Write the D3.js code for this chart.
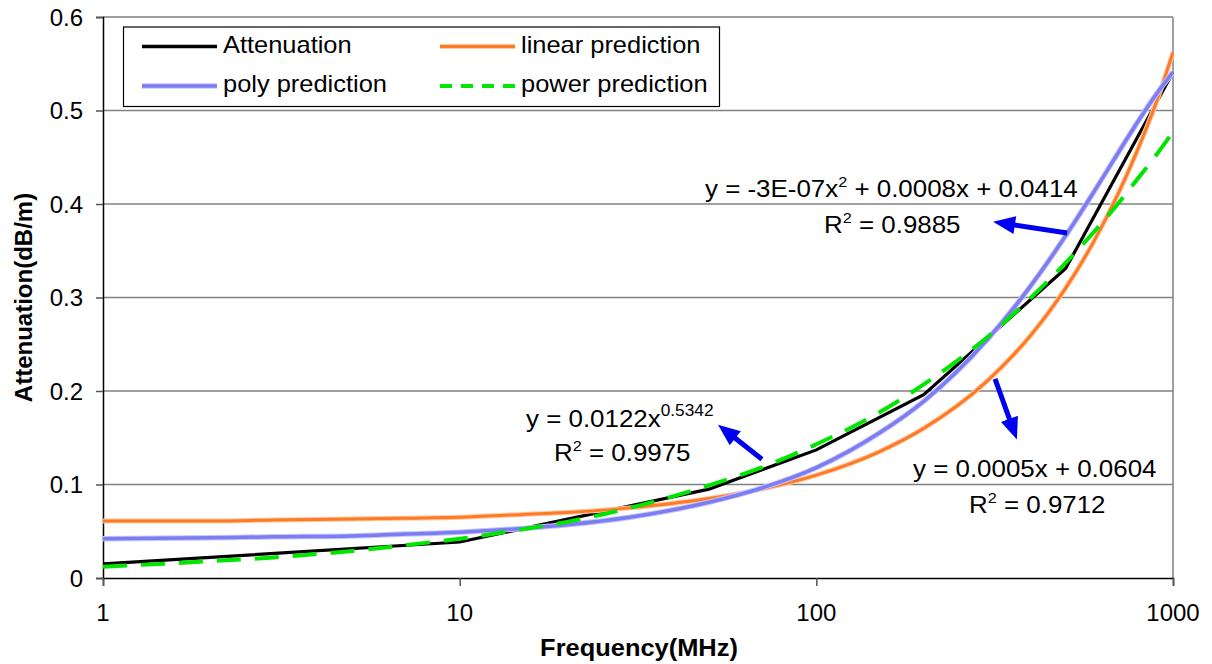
<!DOCTYPE html>
<html>
<head>
<meta charset="utf-8">
<script src="https://cdn.jsdelivr.net/npm/d3@7/dist/d3.min.js"></script>
<style>
  html, body { margin: 0; padding: 0; background: #fff; }
  svg { display: block; }
  text { font-family: "Liberation Sans", Arial, sans-serif; fill: #000; }
</style>
</head>
<body>
<svg id="chart" width="1212" height="664"></svg>
<script>
// ---------------- data ----------------
const measFreq    = [1, 10, 50, 100, 200, 500, 1000];
const attenuation = [0.015, 0.0385, 0.095, 0.137, 0.196, 0.331, 0.541];

const predFreq   = [1, 2, 3, 5, 7, 10, 15, 20, 30, 50, 70, 100, 150, 200, 300, 400, 500, 600, 700, 800, 900, 1000];
const linearPred = [0.061, 0.061, 0.062, 0.063, 0.064, 0.065, 0.068, 0.070, 0.075, 0.085, 0.095, 0.110, 0.135, 0.160, 0.210, 0.260, 0.310, 0.360, 0.410, 0.460, 0.510, 0.562];
const polyPred   = [0.042, 0.043, 0.044, 0.045, 0.047, 0.049, 0.053, 0.057, 0.065, 0.081, 0.096, 0.118, 0.155, 0.189, 0.254, 0.313, 0.366, 0.413, 0.454, 0.489, 0.518, 0.541];
const powerPred  = [0.012, 0.018, 0.022, 0.029, 0.035, 0.042, 0.052, 0.060, 0.075, 0.099, 0.118, 0.143, 0.177, 0.207, 0.257, 0.300, 0.337, 0.370, 0.400, 0.428, 0.453, 0.477];

const xTicks = [1, 10, 100, 1000];
const yTicks = [0, 0.1, 0.2, 0.3, 0.4, 0.5, 0.6];
const xTickLabels = ["1", "10", "100", "1000"];
const yTickLabels = ["0", "0.1", "0.2", "0.3", "0.4", "0.5", "0.6"];

const seriesNames = ["Attenuation", "linear prediction", "poly prediction", "power prediction"];

// trend-line annotations (text) and arrows (data coordinates: [freq, value])
const eqPoly   = { l1: ["y = -3E-07x", "2", " + 0.0008x + 0.0414"], l2: ["R", "2", " = 0.9885"] };
const eqPower  = { l1: ["y = 0.0122x", "0.5342", ""], l2: ["R", "2", " = 0.9975"] };
const eqLinear = { l1: ["y = 0.0005x + 0.0604", "", ""], l2: ["R", "2", " = 0.9712"] };
const arrows = [
  { from: [505, 0.369], to: [313, 0.381] },
  { from: [70.4, 0.127], to: [53.0, 0.164] },
  { from: [317, 0.213], to: [365, 0.148] }
];

// ---------------- layout ----------------
const svg = d3.select("#chart");
const M = { left: 103, right: 1173, top: 17, bottom: 578 };

const x = d3.scaleLog().domain([1, 1000]).range([M.left, M.right]);
const y = d3.scaleLinear().domain([0, 0.6]).range([M.bottom, M.top]);

svg.append("defs").append("clipPath").attr("id", "clip")
  .append("rect").attr("x", M.left).attr("y", M.top - 2)
  .attr("width", M.right - M.left + 1).attr("height", M.bottom - M.top + 2);

// gridlines
svg.append("g").selectAll("line").data(yTicks.slice(1)).join("line")
  .attr("x1", M.left).attr("x2", M.right)
  .attr("y1", d => y(d)).attr("y2", d => y(d))
  .attr("stroke", "#808080").attr("stroke-width", 1.5);

// right frame
svg.append("line").attr("x1", M.right).attr("x2", M.right)
  .attr("y1", M.top).attr("y2", M.bottom)
  .attr("stroke", "#808080").attr("stroke-width", 1.5);

// axes
const yAxis = d3.axisLeft(y).tickValues(yTicks).tickSize(7).tickFormat("");
const gy = svg.append("g").attr("transform", `translate(${M.left},0)`).call(yAxis);
gy.select(".domain").attr("stroke", "#000").attr("stroke-width", 1.5);
gy.selectAll(".tick line").attr("stroke", "#555").attr("stroke-width", 1.5);

const xAxis = d3.axisBottom(x).tickValues(xTicks).tickSize(8).tickFormat("");
const gx = svg.append("g").attr("transform", `translate(0,${M.bottom})`).call(xAxis);
gx.select(".domain").attr("stroke", "#000").attr("stroke-width", 1.5);
gx.selectAll(".tick line").attr("stroke", "#555").attr("stroke-width", 1.5);

// tick labels
svg.append("g").selectAll("text").data(yTicks).join("text")
  .attr("x", 83).attr("y", d => y(d) + 8.5)
  .attr("text-anchor", "end").attr("font-size", 24)
  .text((d, i) => yTickLabels[i]);

svg.append("g").selectAll("text").data(xTicks).join("text")
  .attr("x", d => x(d)).attr("y", 621)
  .attr("text-anchor", "middle").attr("font-size", 24)
  .text((d, i) => xTickLabels[i]);

// axis titles
svg.append("text")
  .attr("transform", "translate(32,297.5) rotate(-90)")
  .attr("text-anchor", "middle").attr("font-size", 24).attr("font-weight", "bold")
  .text("Attenuation(dB/m)");

svg.append("g").attr("transform", "translate(639,656) scale(1.06,1)")
  .append("text").attr("text-anchor", "middle").attr("font-size", 24).attr("font-weight", "bold")
  .text("Frequency(MHz)");

// ---------------- series ----------------
const plot = svg.append("g").attr("clip-path", "url(#clip)");
const lineGen = d3.line().x(d => x(d[0])).y(d => y(d[1]));
const smooth = d3.line().x(d => x(d[0])).y(d => y(d[1])).curve(d3.curveMonotoneX);

const attData  = measFreq.map((f, i) => [f, attenuation[i]]);
const linData  = predFreq.map((f, i) => [f, linearPred[i]]);
const polyData = predFreq.map((f, i) => [f, polyPred[i]]);
const powData  = predFreq.map((f, i) => [f, powerPred[i]]);

plot.append("path").datum(attData).attr("d", lineGen)
  .attr("fill", "none").attr("stroke", "#000").attr("stroke-width", 3.2);

plot.append("path").datum(linData).attr("d", smooth)
  .attr("fill", "none").attr("stroke", "#ffc9a0").attr("stroke-width", 5);
plot.append("path").datum(linData).attr("d", smooth)
  .attr("fill", "none").attr("stroke", "#ff7a26").attr("stroke-width", 3);

plot.append("path").datum(polyData).attr("d", smooth)
  .attr("fill", "none").attr("stroke", "#c4c4ff").attr("stroke-width", 5.5);
plot.append("path").datum(polyData).attr("d", smooth)
  .attr("fill", "none").attr("stroke", "#7d7df2").attr("stroke-width", 3.5);

plot.append("path").datum(powData).attr("d", smooth)
  .attr("fill", "none").attr("stroke", "#00e600").attr("stroke-width", 4)
  .attr("stroke-dasharray", "24,14");

// ---------------- legend ----------------
const lg = svg.append("g");
lg.append("rect").attr("x", 123.5).attr("y", 27).attr("width", 596).attr("height", 79.5)
  .attr("fill", "#fff").attr("stroke", "#000").attr("stroke-width", 1.2);

const legendItems = [
  { name: seriesNames[0], col: 0, row: 0, color: "#000", w: 3.5, halo: null, dash: null },
  { name: seriesNames[1], col: 1, row: 0, color: "#ff7a26", w: 3, halo: "#ffc9a0", dash: null },
  { name: seriesNames[2], col: 0, row: 1, color: "#7d7df2", w: 3.5, halo: "#c4c4ff", dash: null },
  { name: seriesNames[3], col: 1, row: 1, color: "#00e600", w: 4, halo: null, dash: "12,9" }
];
const colX = [142, 440];
const rowY = [46.5, 86];
legendItems.forEach(it => {
  const x0 = colX[it.col], yy = rowY[it.row];
  if (it.halo) lg.append("line").attr("x1", x0).attr("x2", x0 + 75).attr("y1", yy).attr("y2", yy)
    .attr("stroke", it.halo).attr("stroke-width", it.w + 2);
  lg.append("line").attr("x1", x0).attr("x2", x0 + 75).attr("y1", yy).attr("y2", yy)
    .attr("stroke", it.color).attr("stroke-width", it.w)
    .attr("stroke-dasharray", it.dash);
  lg.append("g").attr("transform", `translate(${x0 + 81},${yy + 6}) scale(1.06,1)`)
    .append("text").attr("font-size", 24).attr("dy", 0).text(it.name);
});

// ---------------- equations ----------------
function eqLine(px, py, parts, supDy) {
  const t = svg.append("g").attr("transform", `translate(${px},${py}) scale(1.08,1)`)
    .append("text").attr("font-size", 24);
  t.append("tspan").text(parts[0]);
  if (parts[1]) {
    t.append("tspan").attr("font-size", parts[1].length > 1 ? 16 : 15).attr("dy", -supDy).text(parts[1]);
    if (parts[2]) t.append("tspan").attr("dy", supDy).text(parts[2]);
  } else if (parts[2]) t.append("tspan").text(parts[2]);
}
eqLine(705, 197, eqPoly.l1, 10);
eqLine(824, 233, eqPoly.l2, 10);
eqLine(526, 427, eqPower.l1, 11);
eqLine(554, 461, eqPower.l2, 10);
eqLine(913, 477, eqLinear.l1, 10);
eqLine(969, 513, eqLinear.l2, 10);

// ---------------- arrows ----------------
const ag = svg.append("g");
arrows.forEach(a => {
  const x1 = x(a.from[0]), y1 = y(a.from[1]), x2 = x(a.to[0]), y2 = y(a.to[1]);
  const dx = x2 - x1, dy = y2 - y1, L = Math.hypot(dx, dy);
  const ux = dx / L, uy = dy / L, head = 22, hw = 9;
  const bx = x2 - ux * head, by = y2 - uy * head;
  ag.append("line").attr("x1", x1).attr("y1", y1).attr("x2", bx + ux * 2).attr("y2", by + uy * 2)
    .attr("stroke", "#0000f0").attr("stroke-width", 5);
  ag.append("path")
    .attr("d", `M${x2},${y2} L${bx - uy * hw},${by + ux * hw} L${bx + uy * hw},${by - ux * hw} Z`)
    .attr("fill", "#0000f0");
});
</script>
</body>
</html>
